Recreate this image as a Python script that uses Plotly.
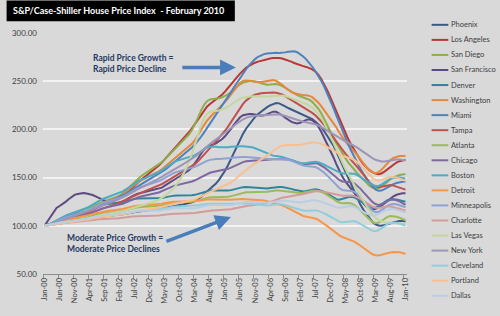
import plotly.graph_objects as go

TICK_LABELS = ["Jan-00", "Jun-00", "Nov-00", "Apr-01", "Sep-01", "Feb-02", "Jul-02", "Dec-02",
               "May-03", "Oct-03", "Mar-04", "Aug-04", "Jan-05", "Jun-05", "Nov-05", "Apr-06",
               "Sep-06", "Feb-07", "Jul-07", "Dec-07", "May-08", "Oct-08", "Mar-09", "Aug-09", "Jan-10"]

PHOENIX = [100.0, 100.5, 101.1, 101.8, 102.5, 103.1, 103.6, 104.0, 104.4, 104.8, 105.1, 105.4,
           105.8, 106.2, 106.8, 107.5, 108.1, 108.7, 109.2, 109.6, 109.9, 110.2, 110.4, 110.7,
           111.0, 111.4, 111.9, 112.6, 113.3, 113.9, 114.4, 114.8, 115.1, 115.4, 115.7, 116.0,
           116.4, 116.8, 117.3, 118.0, 118.7, 119.4, 120.0, 120.5, 121.0, 121.5, 122.1, 122.7,
           123.4, 124.3, 125.6, 127.5, 129.9, 132.7, 135.5, 138.1, 140.7, 143.8, 147.6, 152.1,
           157.1, 162.8, 169.6, 176.6, 183.4, 189.7, 195.6, 200.7, 205.2, 209.4, 212.9, 215.9,
           218.6, 221.0, 223.1, 225.0, 226.4, 227.4, 227.0, 225.8, 224.0, 222.2, 220.8, 219.6,
           218.0, 216.5, 215.5, 214.1, 212.5, 210.6, 208.2, 205.6, 202.3, 198.0, 193.3, 188.8,
           183.4, 177.1, 170.1, 163.1, 156.2, 149.1, 141.6, 134.5, 128.0, 122.0, 116.6, 112.2,
           107.4, 104.0, 101.6, 100.3, 100.0, 100.6, 101.5, 102.6, 103.6, 104.4, 105.1, 105.2,
           104.3]
LOS_ANGELES = [100.0, 100.6, 101.4, 102.5, 103.7, 104.9, 106.0, 107.0, 108.0, 108.9, 109.8, 110.7,
               111.7, 112.7, 113.9, 115.3, 116.8, 118.3, 119.7, 121.0, 122.2, 123.4, 124.6, 125.9,
               127.4, 129.1, 131.1, 133.6, 136.4, 139.3, 142.2, 145.0, 147.6, 150.1, 152.5, 154.9,
               157.3, 159.8, 162.5, 165.5, 168.9, 172.5, 176.1, 179.6, 183.0, 186.4, 189.8, 193.3,
               197.0, 201.0, 205.5, 210.4, 215.3, 219.8, 223.5, 226.3, 228.6, 230.8, 233.2, 236.0,
               239.2, 242.7, 246.5, 250.4, 254.3, 257.9, 261.1, 263.8, 266.0, 267.8, 269.2, 270.3,
               271.3, 272.2, 273.0, 273.6, 274.0, 274.2, 274.0, 273.5, 272.7, 271.6, 270.3, 268.9,
               267.6, 266.5, 265.6, 264.8, 263.8, 262.3, 260.0, 256.7, 252.2, 246.7, 240.3, 233.4,
               226.2, 218.7, 211.0, 203.4, 196.2, 189.7, 183.8, 178.3, 173.1, 168.3, 163.9, 160.4,
               157.7, 155.6, 154.1, 153.6, 154.3, 156.2, 158.7, 161.3, 163.7, 165.6, 167.0, 167.9,
               168.5]
SAN_DIEGO = [100.0, 101.0, 102.3, 103.9, 105.6, 107.2, 108.7, 110.0, 111.2, 112.3, 113.3, 114.3,
             115.2, 116.1, 117.1, 118.5, 120.1, 121.8, 123.4, 124.8, 125.9, 126.8, 127.7, 128.7,
             129.9, 131.5, 133.6, 136.3, 139.4, 142.6, 145.7, 148.6, 151.2, 153.5, 155.6, 157.6,
             159.5, 161.4, 163.5, 166.0, 168.9, 172.0, 175.2, 178.4, 181.5, 184.5, 187.6, 190.9,
             194.7, 199.3, 205.0, 212.0, 219.2, 225.3, 229.3, 231.1, 231.6, 231.8, 232.3, 233.3,
             234.6, 236.4, 238.8, 241.7, 244.5, 246.8, 248.5, 249.6, 250.2, 250.3, 249.9, 249.0,
             247.9, 246.9, 246.4, 246.5, 246.9, 247.0, 246.4, 245.1, 243.3, 241.2, 239.1, 237.2,
             235.6, 234.3, 233.2, 232.2, 230.8, 228.6, 225.6, 221.6, 216.7, 210.9, 204.5, 198.1,
             191.9, 186.0, 180.3, 175.0, 170.1, 165.6, 161.6, 157.9, 154.5, 151.1, 147.6, 144.4,
             141.6, 139.5, 138.4, 138.8, 140.5, 143.2, 146.0, 148.4, 150.3, 151.6, 152.6, 153.2,
             153.6]
SAN_FRANCISCO = [100.0, 104.5, 109.5, 114.8, 118.5, 120.5, 122.3, 124.8, 127.6, 130.3, 132.1, 133.0,
                 133.6, 133.9, 133.5, 132.8, 131.9, 130.5, 128.8, 127.2, 125.7, 124.5, 123.6, 123.2,
                 123.3, 123.8, 124.9, 126.6, 128.6, 130.5, 132.1, 133.2, 134.0, 134.6, 135.2, 135.9,
                 136.6, 137.3, 138.2, 139.6, 141.6, 143.8, 145.9, 147.8, 149.6, 151.4, 153.2, 155.2,
                 157.6, 160.6, 164.6, 169.6, 174.8, 179.1, 181.9, 183.4, 184.4, 185.5, 187.3, 189.8,
                 192.8, 196.3, 200.4, 204.9, 209.2, 212.6, 214.7, 215.7, 216.0, 215.9, 215.4, 214.7,
                 214.2, 214.6, 215.7, 217.2, 218.4, 218.3, 216.8, 214.6, 212.1, 209.8, 208.0, 206.8,
                 206.2, 206.8, 208.2, 209.9, 210.4, 209.5, 207.0, 203.0, 197.6, 191.4, 184.9, 178.3,
                 171.4, 164.0, 157.0, 151.0, 146.0, 141.6, 137.6, 133.8, 130.0, 126.3, 122.9, 120.0,
                 117.8, 117.2, 117.5, 118.8, 120.9, 123.3, 125.9, 128.4, 130.6, 132.2, 133.3, 133.7,
                 133.8]
DENVER = [100.0, 100.8, 101.9, 103.3, 104.9, 106.5, 108.0, 109.3, 110.4, 111.3, 112.0, 112.6,
          113.3, 114.0, 114.9, 116.2, 117.7, 119.2, 120.5, 121.5, 122.2, 122.6, 122.8, 123.0,
          123.2, 123.6, 124.2, 125.1, 126.2, 127.2, 127.9, 128.3, 128.4, 128.4, 128.3, 128.2,
          128.2, 128.2, 128.4, 128.8, 129.5, 130.3, 130.9, 131.3, 131.5, 131.5, 131.4, 131.3,
          131.4, 131.6, 132.1, 133.0, 134.1, 135.2, 136.1, 136.6, 136.7, 136.6, 136.4, 136.3,
          136.3, 136.5, 137.0, 137.8, 138.8, 139.6, 140.1, 140.2, 140.0, 139.6, 139.2, 138.8,
          138.6, 138.5, 138.7, 139.2, 139.8, 140.2, 140.3, 140.2, 139.8, 139.1, 138.3, 137.5,
          136.6, 135.9, 135.6, 136.0, 136.8, 137.6, 137.9, 137.5, 136.6, 135.2, 133.4, 131.4,
          129.3, 127.6, 127.0, 127.6, 128.8, 129.9, 130.1, 129.4, 127.9, 125.9, 123.8, 121.8,
          119.9, 118.5, 118.6, 120.0, 122.4, 124.8, 126.6, 127.5, 127.6, 127.2, 126.5, 125.6,
          124.9]
WASHINGTON = [100.0, 100.5, 101.3, 102.4, 103.7, 105.1, 106.4, 107.5, 108.4, 109.2, 110.0, 110.8,
              111.7, 112.7, 114.0, 115.8, 117.9, 120.0, 121.9, 123.5, 124.8, 125.9, 126.9, 127.9,
              129.0, 130.3, 132.1, 134.5, 137.3, 140.2, 142.8, 145.0, 146.8, 148.4, 149.9, 151.4,
              153.0, 154.6, 156.4, 158.6, 161.2, 164.0, 166.8, 169.4, 171.9, 174.3, 176.7, 179.2,
              181.9, 185.0, 188.8, 193.5, 198.8, 204.2, 209.0, 212.9, 216.0, 218.9, 221.8, 225.0,
              228.5, 232.3, 236.6, 241.1, 245.3, 248.5, 250.3, 250.8, 250.5, 249.9, 249.4, 249.1,
              249.2, 249.7, 250.4, 251.0, 251.1, 250.4, 248.7, 246.2, 243.4, 240.9, 238.8, 237.4,
              236.5, 235.8, 235.5, 235.3, 234.8, 233.4, 231.1, 227.9, 224.1, 219.9, 215.6, 211.4,
              207.0, 202.1, 196.8, 191.9, 187.6, 184.0, 180.7, 177.2, 173.4, 169.2, 164.8, 160.8,
              157.6, 155.4, 154.6, 155.5, 158.0, 161.5, 165.1, 168.2, 170.4, 171.7, 172.3, 172.5,
              172.4]
MIAMI = [100.0, 100.7, 101.5, 102.4, 103.4, 104.4, 105.4, 106.4, 107.4, 108.5, 109.6, 110.8,
         112.0, 113.2, 114.5, 115.9, 117.3, 118.7, 120.1, 121.5, 122.9, 124.2, 125.5, 126.9,
         128.3, 129.8, 131.4, 133.2, 135.1, 137.0, 138.9, 140.7, 142.5, 144.2, 145.9, 147.7,
         149.5, 151.4, 153.4, 155.6, 158.0, 160.5, 163.0, 165.5, 168.0, 170.5, 173.0, 175.6,
         178.3, 181.2, 184.4, 188.0, 192.1, 196.6, 201.2, 205.7, 210.1, 214.5, 219.0, 223.7,
         228.6, 233.6, 238.7, 243.7, 248.6, 253.4, 258.0, 262.4, 266.4, 269.9, 272.9, 275.3,
         277.0, 278.1, 278.8, 279.2, 279.4, 279.4, 279.3, 279.4, 279.9, 280.6, 281.1, 281.0,
         280.0, 278.2, 275.7, 272.6, 269.0, 265.0, 260.6, 255.7, 250.3, 244.2, 237.5, 230.2,
         222.5, 214.6, 206.7, 198.9, 191.4, 184.3, 177.6, 171.2, 165.1, 159.3, 153.9, 149.0,
         144.6, 140.7, 137.8, 136.3, 136.5, 138.0, 139.9, 141.7, 143.2, 144.4, 145.3, 145.8,
         145.9]
TAMPA = [100.0, 100.6, 101.3, 102.2, 103.1, 104.0, 104.9, 105.7, 106.5, 107.3, 108.1, 108.9,
         109.8, 110.8, 111.8, 113.0, 114.2, 115.4, 116.6, 117.7, 118.7, 119.7, 120.7, 121.7,
         122.8, 124.0, 125.3, 126.8, 128.4, 130.0, 131.5, 132.9, 134.2, 135.4, 136.6, 137.8,
         139.0, 140.3, 141.7, 143.3, 145.1, 147.0, 148.9, 150.7, 152.4, 154.1, 155.8, 157.6,
         159.5, 161.6, 164.0, 166.8, 170.0, 173.5, 177.1, 180.6, 184.0, 187.4, 190.9, 194.6,
         198.6, 202.9, 207.6, 212.6, 217.6, 222.3, 226.5, 229.9, 232.6, 234.6, 236.0, 236.9,
         237.4, 237.7, 238.0, 238.2, 238.3, 238.1, 237.4, 236.2, 234.6, 232.7, 230.7, 228.6,
         226.5, 224.5, 222.7, 221.0, 219.2, 217.1, 214.6, 211.6, 208.2, 204.4, 200.2, 195.8,
         191.3, 186.8, 182.5, 178.5, 174.9, 171.5, 168.2, 164.7, 160.9, 156.9, 152.7, 148.7,
         145.3, 142.5, 140.6, 140.0, 140.6, 141.6, 142.2, 142.2, 141.7, 140.8, 139.7, 138.5,
         137.5]
ATLANTA = [100.0, 100.4, 101.0, 101.8, 102.7, 103.6, 104.4, 105.0, 105.5, 105.9, 106.2, 106.6,
           107.1, 107.7, 108.5, 109.5, 110.6, 111.6, 112.4, 113.0, 113.4, 113.7, 113.9, 114.1,
           114.4, 114.8, 115.4, 116.2, 117.1, 118.0, 118.7, 119.1, 119.4, 119.5, 119.6, 119.7,
           119.9, 120.2, 120.7, 121.4, 122.2, 123.0, 123.6, 124.0, 124.2, 124.3, 124.3, 124.4,
           124.6, 125.0, 125.6, 126.5, 127.5, 128.4, 129.1, 129.5, 129.7, 129.7, 129.7, 129.7,
           129.9, 130.2, 130.8, 131.7, 132.7, 133.6, 134.3, 134.7, 134.9, 134.9, 134.8, 134.7,
           134.7, 134.9, 135.3, 135.9, 136.4, 136.6, 136.5, 136.2, 135.8, 135.3, 134.8, 134.4,
           134.1, 134.1, 134.4, 135.1, 135.9, 136.4, 136.5, 136.1, 135.2, 133.9, 132.2, 130.2,
           128.0, 125.7, 124.0, 123.3, 123.5, 123.7, 123.1, 121.5, 119.0, 115.9, 112.6, 109.4,
           106.4, 103.9, 102.6, 103.1, 105.0, 107.4, 109.3, 110.2, 110.2, 109.5, 108.4, 107.1,
           105.8]
CHICAGO = [100.0, 100.5, 101.2, 102.2, 103.4, 104.6, 105.7, 106.6, 107.3, 107.9, 108.5, 109.1,
           109.8, 110.6, 111.5, 112.7, 114.1, 115.5, 116.8, 117.8, 118.6, 119.2, 119.8, 120.4,
           121.1, 121.9, 122.9, 124.2, 125.7, 127.2, 128.5, 129.5, 130.3, 130.9, 131.5, 132.1,
           132.8, 133.6, 134.6, 135.9, 137.4, 138.9, 140.3, 141.4, 142.2, 142.9, 143.5, 144.2,
           145.0, 146.0, 147.2, 148.7, 150.5, 152.3, 153.8, 155.0, 155.8, 156.4, 156.9, 157.5,
           158.2, 159.1, 160.3, 161.8, 163.4, 164.9, 166.1, 166.9, 167.4, 167.6, 167.7, 167.8,
           167.9, 168.1, 168.4, 168.8, 169.1, 169.3, 169.3, 169.3, 169.3, 168.9, 168.2, 167.2,
           166.0, 164.8, 164.0, 164.0, 164.5, 165.0, 165.0, 164.3, 162.8, 160.6, 158.1, 155.5,
           152.8, 150.0, 147.6, 146.0, 145.6, 145.6, 145.3, 144.1, 141.8, 138.6, 135.0, 131.4,
           127.9, 124.8, 122.6, 121.7, 122.3, 124.0, 125.8, 127.1, 127.4, 126.7, 125.4, 123.6,
           121.7]
BOSTON = [100.0, 101.0, 102.3, 103.9, 105.7, 107.5, 109.1, 110.5, 111.7, 112.8, 113.8, 114.8,
          115.9, 117.1, 118.5, 120.2, 122.1, 124.0, 125.8, 127.3, 128.6, 129.7, 130.7, 131.7,
          132.8, 134.1, 135.7, 137.7, 139.9, 142.2, 144.3, 146.1, 147.6, 148.9, 150.1, 151.3,
          152.6, 154.0, 155.6, 157.6, 159.9, 162.2, 164.3, 166.0, 167.3, 168.3, 169.1, 169.9,
          170.8, 171.9, 173.3, 175.2, 177.4, 179.5, 181.1, 181.9, 182.1, 181.9, 181.6, 181.4,
          181.4, 181.6, 182.0, 182.4, 182.6, 182.6, 182.5, 182.3, 182.0, 181.4, 180.4, 179.1,
          177.6, 176.0, 174.6, 173.5, 172.8, 172.3, 171.9, 171.3, 170.3, 169.1, 167.9, 166.8,
          165.9, 165.2, 164.8, 165.0, 165.6, 166.2, 166.4, 166.0, 164.9, 163.4, 161.7, 160.0,
          158.3, 156.7, 155.4, 154.6, 154.4, 154.6, 154.6, 154.0, 152.6, 150.6, 148.4, 146.3,
          144.3, 142.5, 141.4, 141.4, 142.7, 144.9, 147.1, 148.8, 149.8, 150.2, 150.1, 149.7,
          149.2]
DETROIT = [100.0, 100.6, 101.4, 102.3, 103.3, 104.3, 105.2, 106.0, 106.7, 107.3, 107.9, 108.4,
           109.0, 109.6, 110.3, 111.2, 112.1, 113.0, 113.8, 114.4, 114.9, 115.3, 115.6, 115.9,
           116.3, 116.8, 117.4, 118.2, 119.1, 119.9, 120.5, 120.9, 121.1, 121.3, 121.4, 121.5,
           121.7, 122.0, 122.4, 123.0, 123.7, 124.3, 124.7, 124.9, 125.0, 125.0, 125.0, 125.0,
           125.1, 125.3, 125.6, 126.1, 126.6, 127.0, 127.2, 127.2, 127.1, 126.9, 126.7, 126.6,
           126.6, 126.7, 126.9, 127.2, 127.5, 127.7, 127.7, 127.5, 127.3, 127.1, 127.0, 127.0,
           126.8, 126.2, 125.4, 124.6, 123.9, 123.2, 122.4, 121.3, 119.9, 118.2, 116.4, 114.7,
           113.0, 111.4, 110.2, 109.5, 109.0, 108.5, 107.6, 106.2, 104.3, 102.1, 99.7, 97.3,
           94.8, 92.3, 90.1, 88.4, 87.2, 86.2, 85.1, 83.6, 81.6, 79.3, 76.9, 74.6,
           72.5, 70.5, 69.5, 69.3, 70.0, 71.0, 71.8, 72.4, 72.8, 73.0, 72.6, 71.8,
           70.8]
MINNEAPOLIS = [100.0, 100.7, 101.7, 103.0, 104.5, 106.0, 107.4, 108.6, 109.6, 110.5, 111.3, 112.1,
               113.0, 114.0, 115.2, 116.8, 118.5, 120.3, 121.9, 123.2, 124.3, 125.2, 126.0, 126.8,
               127.7, 128.8, 130.1, 131.8, 133.8, 135.8, 137.6, 139.1, 140.3, 141.3, 142.2, 143.1,
               144.0, 145.1, 146.4, 148.0, 149.8, 151.7, 153.4, 154.8, 155.9, 156.7, 157.4, 158.1,
               158.9, 159.9, 161.1, 162.6, 164.3, 166.0, 167.4, 168.4, 169.0, 169.3, 169.4, 169.5,
               169.6, 169.9, 170.3, 170.8, 171.2, 171.4, 171.4, 171.3, 171.2, 171.0, 170.7, 170.3,
               169.9, 169.5, 169.3, 169.3, 169.4, 169.5, 169.5, 169.4, 169.1, 168.5, 167.6, 166.4,
               165.0, 163.6, 162.6, 162.1, 161.9, 161.6, 160.9, 159.6, 157.6, 155.0, 152.0, 148.8,
               145.5, 142.1, 139.2, 137.2, 136.4, 136.3, 136.2, 135.2, 133.0, 129.8, 125.9, 122.1,
               118.6, 115.8, 114.2, 114.4, 116.2, 118.6, 120.7, 122.1, 122.6, 122.3, 121.5, 120.4,
               119.3]
CHARLOTTE = [100.0, 100.3, 100.7, 101.2, 101.7, 102.2, 102.6, 102.9, 103.2, 103.4, 103.6, 103.8,
             104.1, 104.4, 104.8, 105.3, 105.8, 106.3, 106.7, 107.0, 107.2, 107.3, 107.4, 107.5,
             107.7, 107.9, 108.2, 108.7, 109.2, 109.6, 109.9, 110.1, 110.2, 110.2, 110.2, 110.2,
             110.3, 110.4, 110.7, 111.1, 111.6, 112.0, 112.3, 112.5, 112.6, 112.6, 112.6, 112.6,
             112.7, 112.9, 113.3, 113.8, 114.4, 115.0, 115.4, 115.7, 115.9, 116.0, 116.1, 116.2,
             116.4, 116.7, 117.2, 117.9, 118.7, 119.5, 120.2, 120.7, 121.1, 121.4, 121.7, 122.0,
             122.4, 123.0, 123.8, 124.9, 126.1, 127.3, 128.3, 129.1, 129.7, 130.2, 130.6, 131.0,
             131.5, 132.1, 132.9, 133.8, 134.7, 135.5, 135.9, 136.0, 135.8, 135.3, 134.6, 133.8,
             132.9, 132.0, 131.3, 131.1, 131.3, 131.5, 131.4, 130.8, 129.6, 127.9, 125.9, 123.8,
             121.8, 120.0, 118.8, 118.5, 119.0, 119.8, 120.2, 120.1, 119.5, 118.6, 117.6, 116.6,
             115.7]
LAS_VEGAS = [100.0, 100.3, 100.8, 101.4, 102.1, 102.8, 103.4, 103.9, 104.3, 104.7, 105.1, 105.5,
             106.0, 106.6, 107.3, 108.2, 109.1, 110.0, 110.8, 111.5, 112.0, 112.4, 112.8, 113.2,
             113.7, 114.3, 115.1, 116.1, 117.2, 118.3, 119.3, 120.2, 121.0, 121.8, 122.6, 123.5,
             124.5, 125.7, 127.1, 128.9, 131.0, 133.5, 136.3, 139.5, 143.2, 147.6, 152.8, 158.9,
             166.0, 174.4, 184.0, 194.3, 204.0, 211.5, 216.0, 218.1, 218.9, 219.2, 219.6, 220.5,
             221.8, 223.5, 225.6, 227.9, 230.1, 231.8, 232.9, 233.6, 234.1, 234.4, 234.4, 234.2,
             234.0, 233.9, 234.0, 234.3, 234.7, 235.1, 235.3, 235.2, 234.6, 233.7, 232.5, 231.0,
             229.6, 228.5, 227.5, 226.4, 224.9, 222.7, 219.9, 216.3, 211.8, 206.3, 200.0, 193.3,
             186.4, 179.3, 172.3, 165.5, 159.1, 153.2, 147.6, 142.1, 136.6, 131.1, 125.7, 120.6,
             116.0, 111.9, 108.5, 106.0, 104.5, 103.8, 103.5, 103.4, 103.3, 103.1, 102.7, 102.2,
             101.6]
NEW_YORK = [100.0, 100.7, 101.6, 102.6, 103.7, 104.8, 105.9, 107.0, 108.0, 109.0, 110.0, 111.0,
            112.1, 113.2, 114.4, 115.7, 117.1, 118.5, 119.8, 121.0, 122.1, 123.2, 124.3, 125.4,
            126.6, 127.9, 129.4, 131.1, 132.9, 134.7, 136.4, 138.0, 139.5, 141.0, 142.5, 144.0,
            145.6, 147.2, 148.9, 150.8, 152.8, 154.8, 156.7, 158.5, 160.2, 161.9, 163.6, 165.4,
            167.3, 169.4, 171.7, 174.3, 177.1, 179.9, 182.6, 185.1, 187.4, 189.6, 191.8, 194.0,
            196.3, 198.7, 201.2, 203.8, 206.3, 208.6, 210.5, 212.0, 213.1, 213.8, 214.2, 214.4,
            214.5, 214.6, 214.8, 215.2, 215.6, 215.8, 215.6, 215.0, 214.0, 212.8, 211.5, 210.3,
            209.3, 208.5, 207.9, 207.4, 206.9, 206.3, 205.4, 204.1, 202.5, 200.7, 198.8, 196.8,
            194.8, 192.8, 190.9, 189.2, 187.7, 186.3, 184.8, 183.0, 181.0, 178.8, 176.5, 174.3,
            172.2, 170.2, 168.5, 167.3, 166.7, 166.8, 167.4, 168.1, 168.6, 168.8, 168.7, 168.3,
            167.9]
CLEVELAND = [100.0, 100.5, 101.1, 101.8, 102.6, 103.3, 103.9, 104.4, 104.8, 105.1, 105.4, 105.7,
             106.1, 106.5, 107.0, 107.7, 108.4, 109.1, 109.7, 110.1, 110.4, 110.6, 110.8, 111.0,
             111.3, 111.7, 112.2, 112.9, 113.7, 114.4, 115.0, 115.4, 115.7, 115.9, 116.0, 116.1,
             116.3, 116.6, 117.0, 117.6, 118.3, 119.0, 119.5, 119.8, 120.0, 120.1, 120.1, 120.1,
             120.2, 120.4, 120.7, 121.2, 121.8, 122.4, 122.8, 123.0, 123.0, 122.9, 122.7, 122.5,
             122.4, 122.4, 122.5, 122.8, 123.2, 123.5, 123.6, 123.5, 123.2, 122.8, 122.3, 121.8,
             121.4, 121.1, 121.1, 121.4, 121.9, 122.4, 122.6, 122.3, 121.6, 120.6, 119.5, 118.4,
             117.4, 116.5, 115.9, 115.7, 115.9, 116.1, 116.0, 115.5, 114.4, 112.9, 111.2, 109.4,
             107.5, 105.7, 104.3, 103.7, 104.0, 104.8, 105.2, 104.9, 103.7, 101.9, 99.9, 97.9,
             96.1, 94.8, 94.4, 95.3, 97.4, 99.8, 101.8, 103.0, 103.4, 103.1, 102.2, 101.1,
             100.0]
PORTLAND = [100.0, 100.4, 100.9, 101.5, 102.1, 102.7, 103.2, 103.6, 103.9, 104.2, 104.5, 104.8,
            105.2, 105.6, 106.1, 106.8, 107.5, 108.2, 108.8, 109.3, 109.7, 110.0, 110.3, 110.6,
            111.0, 111.4, 111.9, 112.6, 113.4, 114.2, 114.9, 115.5, 116.0, 116.4, 116.8, 117.2,
            117.7, 118.2, 118.8, 119.6, 120.5, 121.4, 122.2, 122.9, 123.5, 124.0, 124.5, 125.0,
            125.6, 126.4, 127.4, 128.7, 130.3, 132.0, 133.6, 135.0, 136.3, 137.5, 138.7, 140.0,
            141.4, 143.0, 144.9, 147.2, 149.9, 152.8, 155.6, 158.2, 160.5, 162.6, 164.6, 166.5,
            168.4, 170.4, 172.6, 175.0, 177.6, 180.0, 181.9, 183.1, 183.7, 183.9, 183.9, 183.8,
            183.8, 184.0, 184.5, 185.2, 186.0, 186.5, 186.5, 186.0, 185.0, 183.6, 181.8, 179.8,
            177.7, 175.6, 173.8, 172.5, 171.6, 170.8, 169.8, 168.3, 166.1, 163.2, 159.8, 156.2,
            152.7, 149.6, 147.6, 146.9, 147.6, 148.9, 150.0, 150.6, 150.6, 150.0, 149.0, 147.8,
            146.6]
DALLAS = [100.0, 100.4, 100.9, 101.6, 102.4, 103.2, 103.9, 104.4, 104.8, 105.1, 105.4, 105.7,
          106.1, 106.6, 107.2, 108.0, 108.9, 109.8, 110.5, 111.0, 111.3, 111.5, 111.6, 111.7,
          111.9, 112.2, 112.6, 113.2, 113.9, 114.6, 115.1, 115.4, 115.5, 115.5, 115.4, 115.3,
          115.3, 115.4, 115.7, 116.2, 116.8, 117.4, 117.9, 118.1, 118.2, 118.1, 118.0, 117.9,
          117.9, 118.1, 118.5, 119.1, 119.9, 120.7, 121.3, 121.6, 121.7, 121.6, 121.4, 121.2,
          121.1, 121.2, 121.5, 122.1, 122.9, 123.7, 124.3, 124.6, 124.6, 124.4, 124.1, 123.8,
          123.6, 123.6, 123.9, 124.4, 125.0, 125.6, 126.0, 126.1, 125.9, 125.5, 125.0, 124.6,
          124.3, 124.3, 124.7, 125.4, 126.1, 126.5, 126.4, 125.9, 125.0, 123.8, 122.5, 121.2,
          120.0, 119.1, 118.8, 119.2, 120.0, 120.6, 120.6, 119.8, 118.3, 116.4, 114.5, 112.8,
          111.5, 110.8, 111.0, 112.2, 114.0, 115.8, 117.0, 117.5, 117.4, 116.8, 115.9, 114.9,
          114.0]

SERIES = [
    ("Phoenix", PHOENIX, "#3C5A86"),
    ("Los Angeles", LOS_ANGELES, "#B93634"),
    ("San Diego", SAN_DIEGO, "#8DAE48"),
    ("San Francisco", SAN_FRANCISCO, "#5D4A80"),
    ("Denver", DENVER, "#31849B"),
    ("Washington", WASHINGTON, "#E6883C"),
    ("Miami", MIAMI, "#4F81BD"),
    ("Tampa", TAMPA, "#C0504D"),
    ("Atlanta", ATLANTA, "#9BBB59"),
    ("Chicago", CHICAGO, "#7F67A2"),
    ("Boston", BOSTON, "#4BACC6"),
    ("Detroit", DETROIT, "#F79646"),
    ("Minneapolis", MINNEAPOLIS, "#8EA3D3"),
    ("Charlotte", CHARLOTTE, "#D39C9A"),
    ("Las Vegas", LAS_VEGAS, "#C4D79B"),
    ("New York", NEW_YORK, "#9D95B9"),
    ("Cleveland", CLEVELAND, "#92CDDC"),
    ("Portland", PORTLAND, "#FABF8F"),
    ("Dallas", DALLAS, "#B9CDE5"),
]

W, H = 500, 316
L, R, T, B = 37, 93, 33, 38
PW, PH = W - L - R, H - T - B


def px(x):
    return (x - L) / PW


def py(y):
    return (H - B - y) / PH


fig = go.Figure()
n = len(PHOENIX)
xs = list(range(n))
for name, vals, col in SERIES:
    fig.add_trace(go.Scatter(x=xs, y=vals, mode="lines", name=name,
                             line=dict(color=col, width=2), showlegend=False))

tickvals = [xs[i] for i in range(0, n, 5)]
FONT = "Lato, Open Sans, sans-serif"

shapes = []
annotations = []
# title bar
shapes.append(dict(type="rect", xref="paper", yref="paper", x0=px(0), x1=px(232), y0=py(21), y1=py(0),
                   fillcolor="black", line=dict(width=0), layer="above"))
annotations.append(dict(text="<b>S&amp;P/Case-Shiller House Price Index  - February 2010</b>", xref="paper",
                        yref="paper", x=px(4), y=py(10.5), xanchor="left", yanchor="middle",
                        showarrow=False, font=dict(family=FONT, size=9, color="white")))
# manual legend
for i, (name, vals, col) in enumerate(SERIES):
    yy = 24.7 + i * 15.3
    shapes.append(dict(type="line", xref="paper", yref="paper", x0=px(432), x1=px(449),
                       y0=py(yy), y1=py(yy), line=dict(color=col, width=2)))
    annotations.append(dict(text=name, xref="paper", yref="paper", x=px(450), y=py(yy),
                            xanchor="left", yanchor="middle", showarrow=False,
                            font=dict(family=FONT, size=7.5, color="#404040")))
# callouts
annotations.append(dict(text="<b>Rapid Price Growth =<br>Rapid Price Decline</b>", xref="paper", yref="paper",
                        x=px(86), y=py(63.5), xanchor="left", yanchor="middle", align="left",
                        showarrow=False, font=dict(family=FONT, size=8.5, color="#1F3A63")))
annotations.append(dict(text="", xref="paper", yref="paper", x=px(233), y=py(68), ax=-55, ay=0,
                        showarrow=True, arrowhead=2, arrowsize=0.9, arrowwidth=3.5, arrowcolor="#4A7EBB"))
annotations.append(dict(text="<b>Moderate Price Growth =<br>Moderate Price Declines</b>", xref="paper",
                        yref="paper", x=px(59), y=py(247.5), xanchor="left", yanchor="middle", align="left",
                        showarrow=False, font=dict(family=FONT, size=8.5, color="#1F3A63")))
annotations.append(dict(text="", xref="paper", yref="paper", x=px(228), y=py(220), ax=-66, ay=25,
                        showarrow=True, arrowhead=2, arrowsize=0.9, arrowwidth=3.5, arrowcolor="#4A7EBB"))

fig.update_layout(
    width=W, height=H,
    margin=dict(l=L, r=R, t=T, b=B),
    paper_bgcolor="#D9D9D9", plot_bgcolor="#D9D9D9",
    font=dict(family=FONT, color="#404040"),
    shapes=shapes, annotations=annotations,
    xaxis=dict(range=[-0.5, n - 0.5], tickmode="array", tickvals=tickvals,
               ticktext=TICK_LABELS, tickangle=-90, tickfont=dict(size=7.5, color="#404040"),
               showgrid=False, zeroline=False, showline=True, linecolor="#8C8C8C", linewidth=1,
               ticks="", minor=dict(tickmode="array", tickvals=[v - 0.5 for v in tickvals],
                                    ticks="outside", ticklen=4, tickcolor="#8C8C8C", showgrid=False)),
    yaxis=dict(range=[50, 300], tickmode="linear", tick0=50, dtick=50, tickformat=".2f",
               tickfont=dict(size=8, color="#404040"), showgrid=True, gridcolor="#F2F2F2",
               gridwidth=1.5, zeroline=False, showline=False, ticks="", ticklabelstandoff=5),
)

fig.write_html("out.html")
